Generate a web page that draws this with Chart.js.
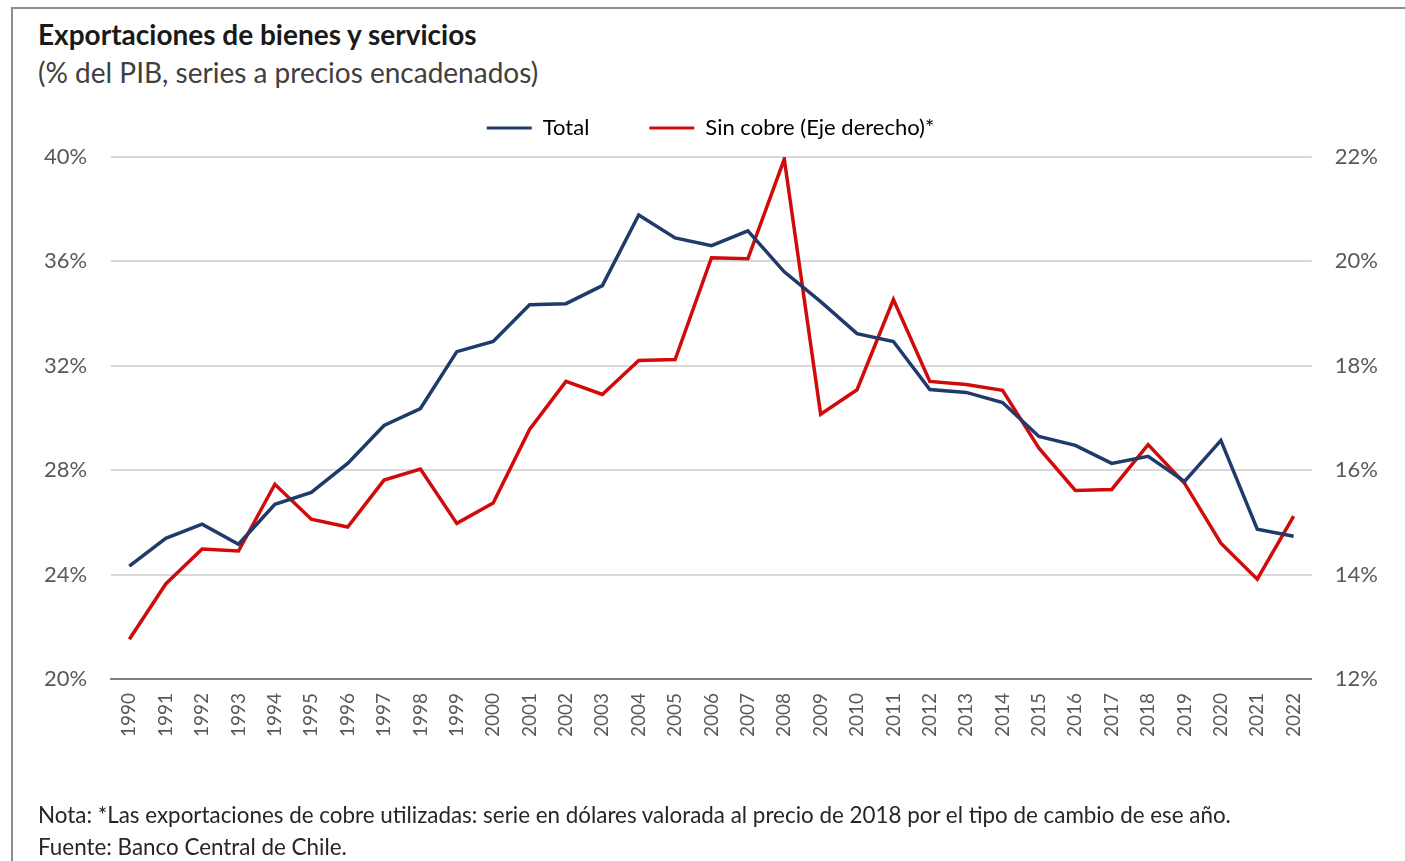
<!DOCTYPE html>
<html>
<head>
<meta charset="utf-8">
<script src="https://cdn.jsdelivr.net/npm/chart.js@4"></script>
<style>
  body { margin: 0; background: #fff; font-family: Lato, "Noto Sans", sans-serif; }
  #wrap { position: relative; width: 1405px; height: 861px; overflow: hidden; }
  #frame { position: absolute; left: 11px; top: 7px; width: 1420px; height: 900px;
           border-left: 2px solid #8c8c8c; border-top: 2px solid #8c8c8c; }
  .titulo { position: absolute; left: 38px; top: 17px; font-size: 28px; font-weight: bold; color: #1a1a1a; }
  .subtitulo { position: absolute; left: 38px; top: 55px; font-size: 28px; color: #404040; }
  .nota { position: absolute; left: 38px; font-size: 22.4px; color: #262626; }
  #c { position: absolute; left: 0; top: 0; }
</style>
</head>
<body>
<div id="wrap">
  <div id="frame"></div>
  <div class="titulo">Exportaciones de bienes y servicios</div>
  <div class="subtitulo">(% del PIB, series a precios encadenados)</div>
  <canvas id="c" width="1405" height="861"></canvas>
  <div class="nota" style="top:801px">Nota: *Las exportaciones de cobre utilizadas: serie en dólares valorada al precio de 2018 por el tipo de cambio de ese año.</div>
  <div class="nota" style="top:833px">Fuente: Banco Central de Chile.</div>
</div>
<script>
const anios = ["1990","1991","1992","1993","1994","1995","1996","1997","1998","1999",
  "2000","2001","2002","2003","2004","2005","2006","2007","2008","2009","2010",
  "2011","2012","2013","2014","2015","2016","2017","2018","2019","2020","2021","2022"];

// % del PIB (eje izquierdo)
const total = [24.32, 25.39, 25.93, 25.16, 26.69, 27.15, 28.26, 29.71, 30.36, 32.54,
  32.93, 34.34, 34.38, 35.07, 37.78, 36.90, 36.60, 37.17, 35.60, 34.46, 33.23,
  32.93, 31.09, 30.98, 30.59, 29.29, 28.95, 28.26, 28.53, 27.57, 29.14, 25.74, 25.47];

// % del PIB sin cobre (eje derecho)
const sinCobre = [12.76, 13.82, 14.49, 14.45, 15.73, 15.06, 14.91, 15.81, 16.02, 14.98,
  15.37, 16.78, 17.70, 17.45, 18.10, 18.12, 20.07, 20.05, 21.96, 17.07, 17.54,
  19.27, 17.70, 17.64, 17.53, 16.42, 15.61, 15.63, 16.49, 15.75, 14.60, 13.91, 15.12];

const ticksIzq = [20, 24, 28, 32, 36, 40];
const ticksDer = [12, 14, 16, 18, 20, 22];

const gris = "#595959";

// un poco de aire entre la leyenda y el gráfico
const espacioLeyenda = {
  id: "espacioLeyenda",
  beforeInit(chart) {
    const fitOriginal = chart.legend.fit;
    chart.legend.fit = function () {
      fitOriginal.bind(chart.legend)();
      this.height += 8;
    };
  },
};

new Chart(document.getElementById("c").getContext("2d"), {
  type: "line",
  data: {
    labels: anios,
    datasets: [
      {
        label: "Total",
        data: total,
        borderColor: "#1f3a6b",
        backgroundColor: "#1f3a6b",
        borderWidth: 3.5,
        pointRadius: 0,
        tension: 0,
        yAxisID: "y",
      },
      {
        label: "Sin cobre (Eje derecho)*",
        data: sinCobre,
        borderColor: "#d10a0a",
        backgroundColor: "#d10a0a",
        borderWidth: 3.5,
        pointRadius: 0,
        tension: 0,
        yAxisID: "y2",
      },
    ],
  },
  options: {
    responsive: false,
    animation: false,
    layout: { padding: { top: 57, left: 20, right: 4, bottom: 118 } },
    plugins: {
      legend: {
        position: "top",
        labels: {
          font: { family: "Lato", size: 22 },
          color: "#404040",
          boxWidth: 45,
          boxHeight: 3,
          padding: 60,
          generateLabels: (chart) =>
            chart.data.datasets.map((ds, i) => ({
              text: ds.label,
              fillStyle: ds.borderColor,
              strokeStyle: ds.borderColor,
              lineWidth: 0,
              datasetIndex: i,
            })),
        },
      },
      tooltip: { enabled: false },
    },
    scales: {
      x: {
        offset: true,
        grid: { display: false },
        border: { color: "#7f7f7f", width: 2 },
        ticks: {
          color: gris,
          font: { family: "Lato", size: 19 },
          minRotation: 90,
          maxRotation: 90,
          autoSkip: false,
          padding: 6,
        },
      },
      y: {
        position: "left",
        min: ticksIzq[0],
        max: ticksIzq[ticksIzq.length - 1],
        afterBuildTicks: (s) => { s.ticks = ticksIzq.map((v) => ({ value: v })); },
        grid: { color: "#d9d9d9", lineWidth: 2, drawTicks: false },
        border: { display: false },
        ticks: { color: gris, font: { family: "Lato", size: 22 }, padding: 24, callback: (v) => v + "%" },
      },
      y2: {
        position: "right",
        min: ticksDer[0],
        max: ticksDer[ticksDer.length - 1],
        afterBuildTicks: (s) => { s.ticks = ticksDer.map((v) => ({ value: v })); },
        grid: { display: false, drawTicks: false },
        border: { display: false },
        ticks: { color: gris, font: { family: "Lato", size: 22 }, padding: 23, callback: (v) => v + "%" },
      },
    },
  },
  plugins: [espacioLeyenda],
});
</script>
</body>
</html>
